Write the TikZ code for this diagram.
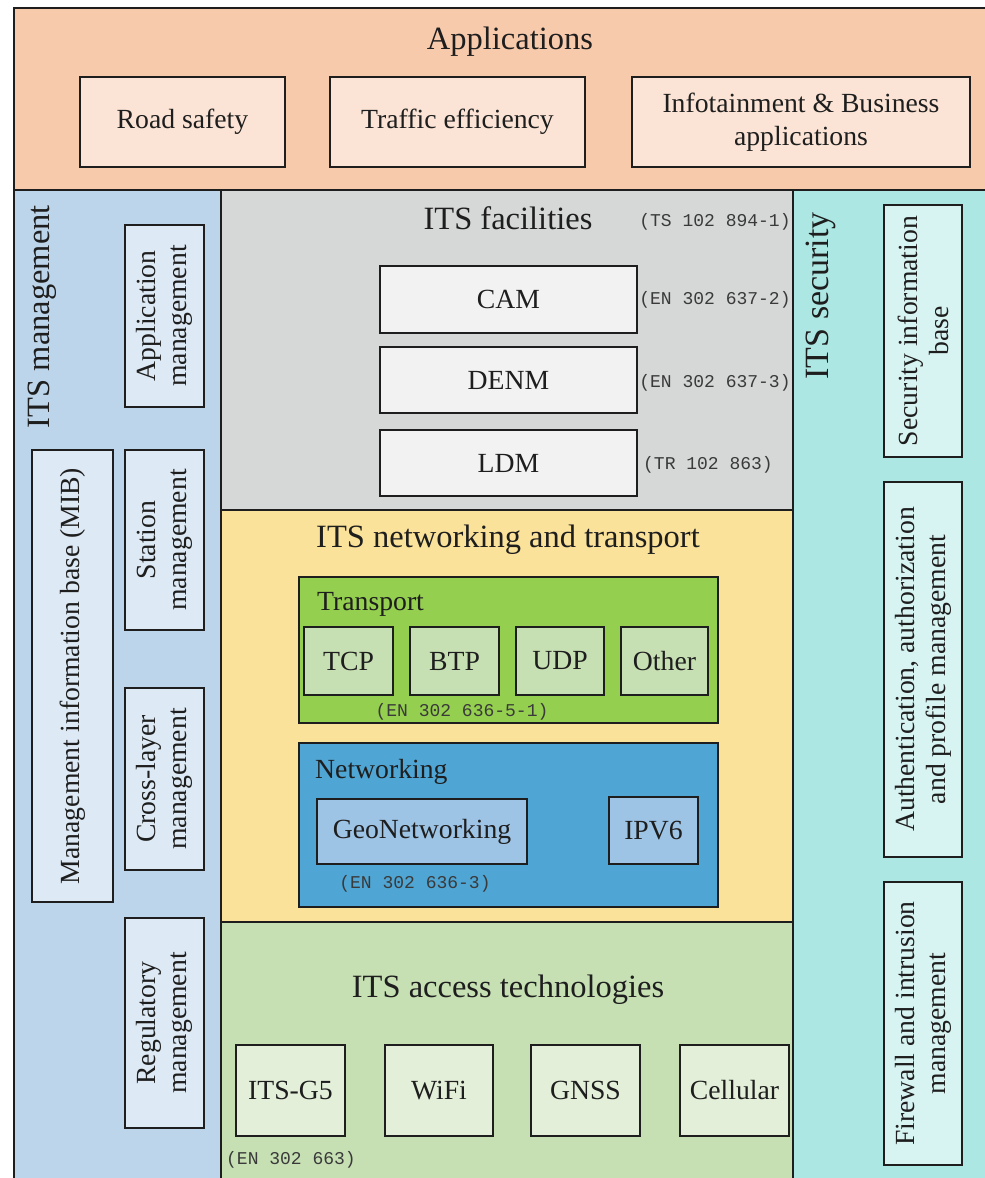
\documentclass[tikz,border=0pt]{standalone}
\usepackage{fontspec}
\setmainfont{Liberation Serif}
\setmonofont{Liberation Mono}
\newcommand\fsz[2]{\fontsize{#1}{#2}\selectfont}

\definecolor{appband}{HTML}{F7CAAC}
\definecolor{appfill}{HTML}{FBE4D5}
\definecolor{mgmtband}{HTML}{BDD5EB}
\definecolor{mgmtfill}{HTML}{DDE9F4}
\definecolor{facband}{HTML}{D6D7D7}
\definecolor{facfill}{HTML}{F2F2F2}
\definecolor{netband}{HTML}{FBE29A}
\definecolor{trband}{HTML}{95CF4F}
\definecolor{trfill}{HTML}{C7E0B3}
\definecolor{nwband}{HTML}{4FA5D4}
\definecolor{nwfill}{HTML}{9DC3E5}
\definecolor{accband}{HTML}{C6E0B4}
\definecolor{accfill}{HTML}{E3EFD8}
\definecolor{secband}{HTML}{ADE7E3}
\definecolor{secfill}{HTML}{D8F4F2}
\definecolor{ink}{HTML}{1E1E1E}
\definecolor{reftext}{HTML}{3A3A3A}

\tikzset{
  layer/.style={draw=ink, line width=1.6pt, inner sep=0pt},
  unit/.style={draw=ink, line width=1.5pt, inner sep=0pt, align=center,
    text=ink, font=\fsz{27.7}{31}},
  vunit/.style={unit, rotate=90},
  title/.style={inner sep=0pt, text=ink, font=\fsz{32.5}{35}},
  caption/.style={inner sep=0pt, text=ink, font=\fsz{27.7}{30}},
  stdref/.style={inner sep=0pt, text=reftext, font=\ttfamily\fsz{18}{20}},
}

\begin{document}
\begin{tikzpicture}[x=1pt, y=-1pt]
\useasboundingbox (0,0) rectangle (985,1178);
\clip (0,0) rectangle (985,1178);

% ---- layers ----
\path[layer, fill=appband]  (14,8)    rectangle (995,190);
\path[layer, fill=mgmtband] (14,190)  rectangle (221,1190);
\path[layer, fill=facband]  (221,190) rectangle (793,510);
\path[layer, fill=netband]  (221,510) rectangle (793,922);
\path[layer, fill=accband]  (221,922) rectangle (793,1190);
\path[layer, fill=secband]  (793,190) rectangle (995,1190);

% ---- applications ----
\node[title] (apps) at (510,42) {Applications};
\node[unit, fill=appfill, minimum width=205, minimum height=90] (road) at (182.5,122) {Road safety};
\node[unit, fill=appfill, minimum width=255, minimum height=90] (traffic) at (457.5,122) {Traffic efficiency};
\node[unit, fill=appfill, minimum width=338, minimum height=90, font=\fsz{27.7}{33}] (info) at (801,122) {Infotainment \& Business\\applications};

% ---- facilities ----
\node[title] (fac) at (508,218) {ITS facilities};
\node[stdref] (facref) at (715,222) {(TS 102 894-1)};
\node[unit, fill=facfill, minimum width=257, minimum height=67] (cam) at (508.5,299.5) {CAM};
\node[unit, fill=facfill, minimum width=257, minimum height=66] (denm) at (508.5,380) {DENM};
\node[unit, fill=facfill, minimum width=257, minimum height=66] (ldm) at (508.5,463) {LDM};
\node[stdref] (camref) at (715,300) {(EN 302 637-2)};
\node[stdref] (denmref) at (715,383) {(EN 302 637-3)};
\node[stdref] (ldmref) at (708,465) {(TR 102 863)};

% ---- networking and transport ----
\node[title] (net) at (508,540) {ITS networking and transport};
\node[layer, fill=trband, minimum width=419, minimum height=146] (transport) at (508.5,650) {};
\node[caption, anchor=west] (trlabel) at (317,604) {Transport};
\node[unit, fill=trfill, minimum width=89, minimum height=68] (tcp) at (348.5,661) {TCP};
\node[unit, fill=trfill, minimum width=89, minimum height=68] (btp) at (454.5,661) {BTP};
\node[unit, fill=trfill, minimum width=88, minimum height=68] (udp) at (560,661) {UDP};
\node[unit, fill=trfill, minimum width=87, minimum height=68] (other) at (664.5,661) {Other};
\node[stdref] (trref) at (462,712) {(EN 302 636-5-1)};

\node[layer, fill=nwband, minimum width=419, minimum height=164] (networking) at (508.5,825) {};
\node[caption, anchor=west] (nwlabel) at (315,772) {Networking};
\node[unit, fill=nwfill, minimum width=210, minimum height=65] (geo) at (422,831.5) {GeoNetworking};
\node[unit, fill=nwfill, minimum width=89, minimum height=67] (ipv6) at (653.5,830.5) {IPV6};
\node[stdref] (georef) at (415,884) {(EN 302 636-3)};

% ---- access technologies ----
\node[title] (acc) at (508,990) {ITS access technologies};
\node[unit, fill=accfill, minimum width=109, minimum height=91] (g5) at (290.5,1090.5) {ITS-G5};
\node[unit, fill=accfill, minimum width=108, minimum height=91] (wifi) at (439,1090.5) {WiFi};
\node[unit, fill=accfill, minimum width=109, minimum height=91] (gnss) at (585.5,1090.5) {GNSS};
\node[unit, fill=accfill, minimum width=109, minimum height=91] (cell) at (734.5,1090.5) {Cellular};
\node[stdref] (g5ref) at (291,1160) {(EN 302 663)};

% ---- management ----
\node[title, rotate=90, anchor=east] (mgmt) at (42,205) {ITS management};
\node[vunit, fill=mgmtfill, minimum width=182, minimum height=79] (appmgmt) at (164.5,316) {Application\\management};
\node[vunit, fill=mgmtfill, minimum width=180, minimum height=79] (stamgmt) at (164.5,540) {Station\\management};
\node[vunit, fill=mgmtfill, minimum width=182, minimum height=79] (xmgmt) at (164.5,779) {Cross-layer\\management};
\node[vunit, fill=mgmtfill, minimum width=210, minimum height=79] (regmgmt) at (164.5,1023) {Regulatory\\management};
\node[vunit, fill=mgmtfill, minimum width=452, minimum height=81] (mib) at (72.5,676) {Management information base (MIB)};

% ---- security ----
\node[title, rotate=90, anchor=east, font=\fsz{34}{36}] (sec) at (821,212) {ITS security};
\node[vunit, fill=secfill, minimum width=252, minimum height=78] (sib) at (923,331) {Security information\\base};
\node[vunit, fill=secfill, minimum width=375, minimum height=78] (auth) at (923,669.5) {Authentication, authorization\\and profile management};
\node[vunit, fill=secfill, minimum width=283, minimum height=78] (fw) at (923,1023.5) {Firewall and intrusion\\management};
\end{tikzpicture}
\end{document}
